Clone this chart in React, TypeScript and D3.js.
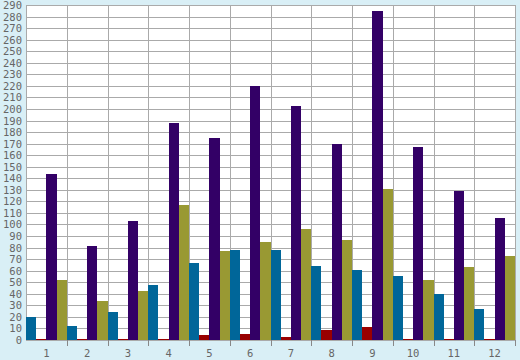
import React from "react";
import * as d3 from "d3";

const categories = ["1", "2", "3", "4", "5", "6", "7", "8", "9", "10", "11", "12"];
const seriesNames = ["A", "B", "C", "D"];
const seriesA = [20, 12, 24, 48, 67, 78, 78, 64, 61, 55, 40, 27];
const seriesB = [1, 1, 1, 1, 4, 5, 3, 9, 11, 1, 1, 1];
const seriesC = [144, 81, 103, 188, 175, 220, 203, 170, 285, 167, 129, 106];
const seriesD = [52, 34, 42, 117, 77, 85, 96, 87, 131, 52, 63, 73];
const colors = ["#006699", "#990000", "#330066", "#999933"];
const yTicks = d3.range(0, 291, 10);

const W = 520;
const H = 360;
const left = 26;
const right = 515;
const top = 5;
const bottom = 340;

export default function App() {
  const allSeries = [seriesA, seriesB, seriesC, seriesD];
  const x = d3.scaleBand<string>().domain(categories).range([left, right]).padding(0);
  const xi = d3.scaleBand<string>().domain(seriesNames).range([0, x.bandwidth()]).padding(0);
  const y = d3.scaleLinear().domain([0, 290]).range([bottom, top]);
  const font = "'DejaVu Sans Mono', monospace";

  return (
    <svg
      width={W}
      height={H}
      style={{ position: "absolute", left: 0, top: 0, display: "block" }}
      shapeRendering="crispEdges"
    >
      <rect x={0} y={0} width={W} height={H} fill="#d9eff6" />
      <rect x={left} y={top} width={right - left} height={bottom - top} fill="#ffffff" />
      {yTicks.map((t) => (
        <line key={"h" + t} x1={left} x2={right} y1={Math.round(y(t))} y2={Math.round(y(t))} stroke="#aaaaaa" strokeWidth={1} />
      ))}
      {categories.map((c) => (
        <line
          key={"v" + c}
          x1={Math.round(x(c)!)}
          x2={Math.round(x(c)!)}
          y1={top}
          y2={bottom}
          stroke="#aaaaaa"
          strokeWidth={1}
        />
      ))}
      <line x1={right} x2={right} y1={top} y2={bottom} stroke="#aaaaaa" strokeWidth={1} />
      {allSeries.map((s, si) =>
        s.map((v, ci) => {
          const bx = x(categories[ci])! + xi(seriesNames[si])!;
          return (
            <rect
              key={si + "-" + ci}
              x={bx}
              y={y(v)}
              width={xi.bandwidth()}
              height={bottom - y(v)}
              fill={colors[si]}
            />
          );
        })
      )}
      <line x1={left} x2={right} y1={bottom} y2={bottom} stroke="#aaaaaa" strokeWidth={1} />
      {categories.map((c) => (
        <line
          key={"t" + c}
          x1={Math.round(x(c)! + x.bandwidth())}
          x2={Math.round(x(c)! + x.bandwidth())}
          y1={bottom}
          y2={bottom + 6}
          stroke="#888888"
          strokeWidth={1}
        />
      ))}
      {categories.map((c) => (
        <text
          key={"l" + c}
          x={x(c)! + x.bandwidth() / 2}
          y={357}
          textAnchor="middle"
          fontFamily={font}
          fontSize={10.5}
          fill="#666666"
        >
          {c}
        </text>
      ))}
      {yTicks.map((t) => (
        <text
          key={"y" + t}
          x={22}
          y={y(t) + 4}
          textAnchor="end"
          fontFamily={font}
          fontSize={10.5}
          fill="#666666"
        >
          {t}
        </text>
      ))}
    </svg>
  );
}
